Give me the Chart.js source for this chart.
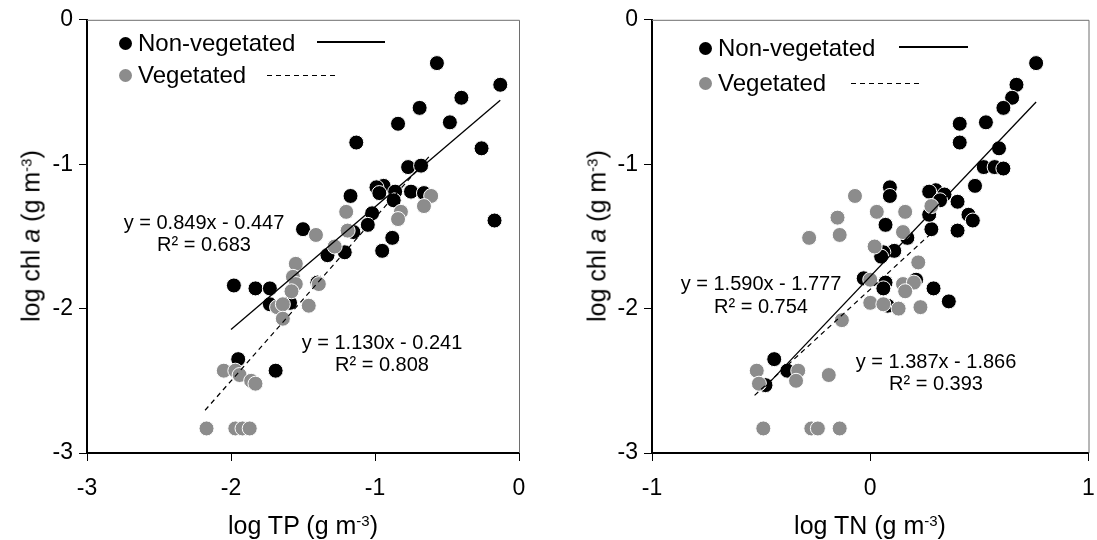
<!DOCTYPE html>
<html>
<head>
<meta charset="utf-8">
<script src="https://cdn.jsdelivr.net/npm/chart.js@4.4.1/dist/chart.umd.min.js"></script>
<style>
    body { margin: 0; background: #fff; font-family: Arial, "Liberation Sans", sans-serif; color: #000; }
    #wrap { position: relative; width: 1097px; height: 540px; overflow: hidden; }
    .box { position: absolute; top: 0; height: 540px; }
    .txt { position: absolute; white-space: nowrap; line-height: 1; }
    .dot { position: absolute; width: 13px; height: 13px; border-radius: 50%; }
    .solid { position: absolute; height: 2px; background: #000; }
    .dash { position: absolute; height: 1px; background: repeating-linear-gradient(to right, #000 0 5px, transparent 5px 9px); }
    sup { font-size: 0.6em; vertical-align: 0; position: relative; top: -0.55em; }
</style>
</head>
<body>
<div id="wrap">
    <div class="box" style="left:0;width:548px"><canvas id="tpChart"></canvas></div>
    <div class="box" style="left:548px;width:549px"><canvas id="tnChart"></canvas></div>
</div>
<script>
// log TP panel
const tpNonVeg = [
    [-0.57, -0.30], [-0.13, -0.45], [-0.40, -0.54], [-0.69, -0.61], [-0.84, -0.72],
    [-0.48, -0.71], [-1.13, -0.85], [-0.26, -0.89], [-0.77, -1.02], [-0.68, -1.01],
    [-0.94, -1.15], [-0.99, -1.16], [-0.97, -1.20], [-0.86, -1.19], [-0.87, -1.25],
    [-0.75, -1.19], [-0.66, -1.20], [-1.17, -1.22], [-1.02, -1.34], [-1.05, -1.42],
    [-0.17, -1.39], [-1.50, -1.45], [-0.88, -1.51], [-0.95, -1.60], [-1.15, -1.47],
    [-1.33, -1.63], [-1.21, -1.61], [-1.40, -1.82], [-1.98, -1.84], [-1.83, -1.86],
    [-1.73, -1.86], [-1.73, -1.97], [-1.59, -1.96], [-1.95, -2.35], [-1.69, -2.43],
];
const tpVeg = [
    [-0.61, -1.22], [-0.66, -1.29], [-0.82, -1.33], [-0.84, -1.38], [-1.20, -1.33],
    [-1.41, -1.49], [-1.19, -1.46], [-1.28, -1.57], [-1.55, -1.69], [-1.57, -1.78],
    [-1.55, -1.83], [-1.39, -1.83], [-1.58, -1.88], [-1.46, -1.98], [-1.68, -1.99],
    [-1.64, -1.97], [-1.64, -2.07], [-2.05, -2.43], [-1.97, -2.43], [-1.94, -2.46],
    [-1.86, -2.50], [-1.83, -2.52], [-2.17, -2.83], [-1.97, -2.83], [-1.92, -2.83],
    [-1.87, -2.83],
];
const tpNonVegFit = [[-2.0, -2.145], [-0.13, -0.557]];
const tpVegFit = [[-2.18, -2.704], [-0.62, -0.942]];
const tpTicksX = [-3, -2, -1, 0];

// log TN panel
const tnNonVeg = [
    [0.76, -0.30], [0.67, -0.45], [0.65, -0.54], [0.61, -0.61], [0.53, -0.71],
    [0.41, -0.72], [0.41, -0.85], [0.59, -0.89], [0.52, -1.02], [0.57, -1.02],
    [0.61, -1.03], [0.48, -1.15], [0.09, -1.16], [0.09, -1.22], [0.30, -1.18],
    [0.27, -1.19], [0.34, -1.21], [0.32, -1.25], [0.40, -1.26], [0.45, -1.35],
    [0.47, -1.39], [0.07, -1.42], [0.28, -1.45], [0.27, -1.35], [0.40, -1.46],
    [0.17, -1.51], [0.11, -1.60], [0.06, -1.61], [0.05, -1.64], [-0.03, -1.79],
    [0.07, -1.82], [0.06, -1.86], [0.21, -1.80], [0.29, -1.86], [0.36, -1.95],
    [0.08, -1.98], [-0.44, -2.35], [-0.38, -2.43], [-0.48, -2.53],
];
const tnVeg = [
    [-0.07, -1.22], [-0.15, -1.37], [0.03, -1.33], [0.16, -1.33], [0.28, -1.29],
    [-0.14, -1.49], [0.15, -1.47], [-0.28, -1.51], [0.02, -1.57], [0.22, -1.68],
    [0.00, -1.80], [0.15, -1.83], [0.20, -1.82], [0.16, -1.88], [0.00, -1.96],
    [0.06, -1.97], [0.13, -2.00], [0.23, -1.99], [-0.13, -2.08], [-0.52, -2.43],
    [-0.51, -2.52], [-0.33, -2.43], [-0.34, -2.50], [-0.19, -2.46], [-0.49, -2.83],
    [-0.27, -2.83], [-0.24, -2.83], [-0.14, -2.83],
];
const tnNonVegFit = [[-0.48, -2.54], [0.76, -0.569]];
const tnVegFit = [[-0.53, -2.601], [0.28, -1.478]];
const tnTicksX = [-1, 0, 1];

const chlTicksY = [-3, -2, -1, 0];

const FONT = 'Arial, "Liberation Sans", sans-serif';
const toXY = arr => arr.map(([x, y]) => ({ x, y }));

// thin grey frame on the top and right sides of the plot area
const frame = {
    id: 'frame',
    afterDraw(chart) {
        const { ctx, chartArea: a } = chart;
        ctx.save();
        ctx.strokeStyle = '#6e6e6e';
        ctx.lineWidth = 1;
        ctx.beginPath();
        ctx.moveTo(a.left, a.top + 0.5);
        ctx.lineTo(a.right + 0.5, a.top + 0.5);
        ctx.lineTo(a.right + 0.5, a.bottom);
        ctx.stroke();
        ctx.restore();
    },
};

const axis = (ticks, fit, isY) => ({
    type: 'linear',
    min: ticks[0],
    max: ticks[ticks.length - 1],
    afterBuildTicks: s => { s.ticks = ticks.map(v => ({ value: v })); },
    afterFit: s => {
        if (isY) {
            s.width = fit;
        } else {
            s.height = fit;
            s.paddingLeft = 0;
            s.paddingRight = 0;
        }
    },
    border: { display: true, color: '#000', width: 2 },
    grid: { drawOnChartArea: false, drawTicks: true, tickLength: 8, color: '#000', lineWidth: 1 },
    ticks: { color: '#000', padding: isY ? 6 : 14, font: { family: FONT, size: 23 } },
    title: { display: false },
});

const makePanel = (id, nonVeg, veg, nonVegFit, vegFit, xTicks, yWidth, rightPad) => {
    new Chart(document.getElementById(id).getContext('2d'), {
        type: 'scatter',
        data: {
            datasets: [
                {
                    type: 'line', data: toXY(nonVegFit), borderColor: '#000', borderWidth: 1.3,
                    pointRadius: 0, fill: false, order: 0,
                },
                {
                    type: 'line', data: toXY(vegFit), borderColor: '#000', borderWidth: 1.2,
                    borderDash: [5, 4], pointRadius: 0, fill: false, order: 1,
                },
                {
                    label: 'Vegetated', data: toXY(veg), backgroundColor: '#8c8c8c',
                    borderColor: '#fff', borderWidth: 1, pointRadius: 7.5, order: 2,
                },
                {
                    label: 'Non-vegetated', data: toXY(nonVeg), backgroundColor: '#000',
                    borderColor: '#fff', borderWidth: 1, pointRadius: 7.5, order: 3,
                },
            ],
        },
        options: {
            responsive: true,
            maintainAspectRatio: false,
            animation: false,
            layout: { padding: { top: 18, right: rightPad, left: 0, bottom: 0 } },
            plugins: { legend: { display: false }, tooltip: { enabled: false } },
            scales: {
                x: axis(xTicks, 87, false),
                y: axis(chlTicksY, yWidth, true),
            },
        },
        plugins: [frame],
    });
};

makePanel('tpChart', tpNonVeg, tpVeg, tpNonVegFit, tpVegFit, tpTicksX, 87, 29);
makePanel('tnChart', tnNonVeg, tnVeg, tnNonVegFit, tnVegFit, tnTicksX, 104, 8);

// text overlays: legends, fit equations, axis titles
const wrap = document.getElementById('wrap');
const add = (html, cls, style) => {
    const el = document.createElement('div');
    el.className = cls;
    el.innerHTML = html;
    Object.assign(el.style, style);
    wrap.appendChild(el);
    return el;
};
const centered = (html, cx, cy, size) =>
    add(html, 'txt', { left: cx + 'px', top: cy + 'px', fontSize: size + 'px', transform: 'translate(-50%, -50%)' });

const legend = (dotX, row1, row2, solid, dash) => {
    add('', 'dot', { left: (dotX - 6.5) + 'px', top: (row1 - 6.5) + 'px', background: '#000' });
    add('', 'dot', { left: (dotX - 6.5) + 'px', top: (row2 - 6.5) + 'px', background: '#8c8c8c' });
    add('Non-vegetated', 'txt', { left: (dotX + 13) + 'px', top: row1 + 'px', fontSize: '24px', transform: 'translateY(-50%)' });
    add('Vegetated', 'txt', { left: (dotX + 13) + 'px', top: row2 + 'px', fontSize: '24px', transform: 'translateY(-50%)' });
    add('', 'solid', { left: solid[0] + 'px', width: (solid[1] - solid[0]) + 'px', top: (row1 - 2) + 'px' });
    add('', 'dash', { left: dash[0] + 'px', width: (dash[1] - dash[0]) + 'px', top: row2 + 'px' });
};
legend(125, 43, 75, [317, 385], [267, 337]);
legend(705, 48, 83, [899, 968], [851, 920]);

centered('y = 0.849x - 0.447', 204, 222, 20);
centered('R² = 0.683', 204, 244, 20);
centered('y = 1.130x - 0.241', 382, 342, 20);
centered('R² = 0.808', 382, 364, 20);
centered('y = 1.590x - 1.777', 761, 283, 20);
centered('R² = 0.754', 761, 306, 20);
centered('y = 1.387x - 1.866', 936, 361, 20);
centered('R² = 0.393', 936, 383, 20);

const yTitle = 'log chl <i>a</i> (g m<sup>-3</sup>)';
add(yTitle, 'txt', { left: '31px', top: '236px', fontSize: '25px', transform: 'translate(-50%, -50%) rotate(-90deg)' });
add(yTitle, 'txt', { left: '597px', top: '236px', fontSize: '25px', transform: 'translate(-50%, -50%) rotate(-90deg)' });
centered('log TP (g m<sup>-3</sup>)', 303, 525, 25);
centered('log TN (g m<sup>-3</sup>)', 870, 525, 25);
</script>
</body>
</html>
